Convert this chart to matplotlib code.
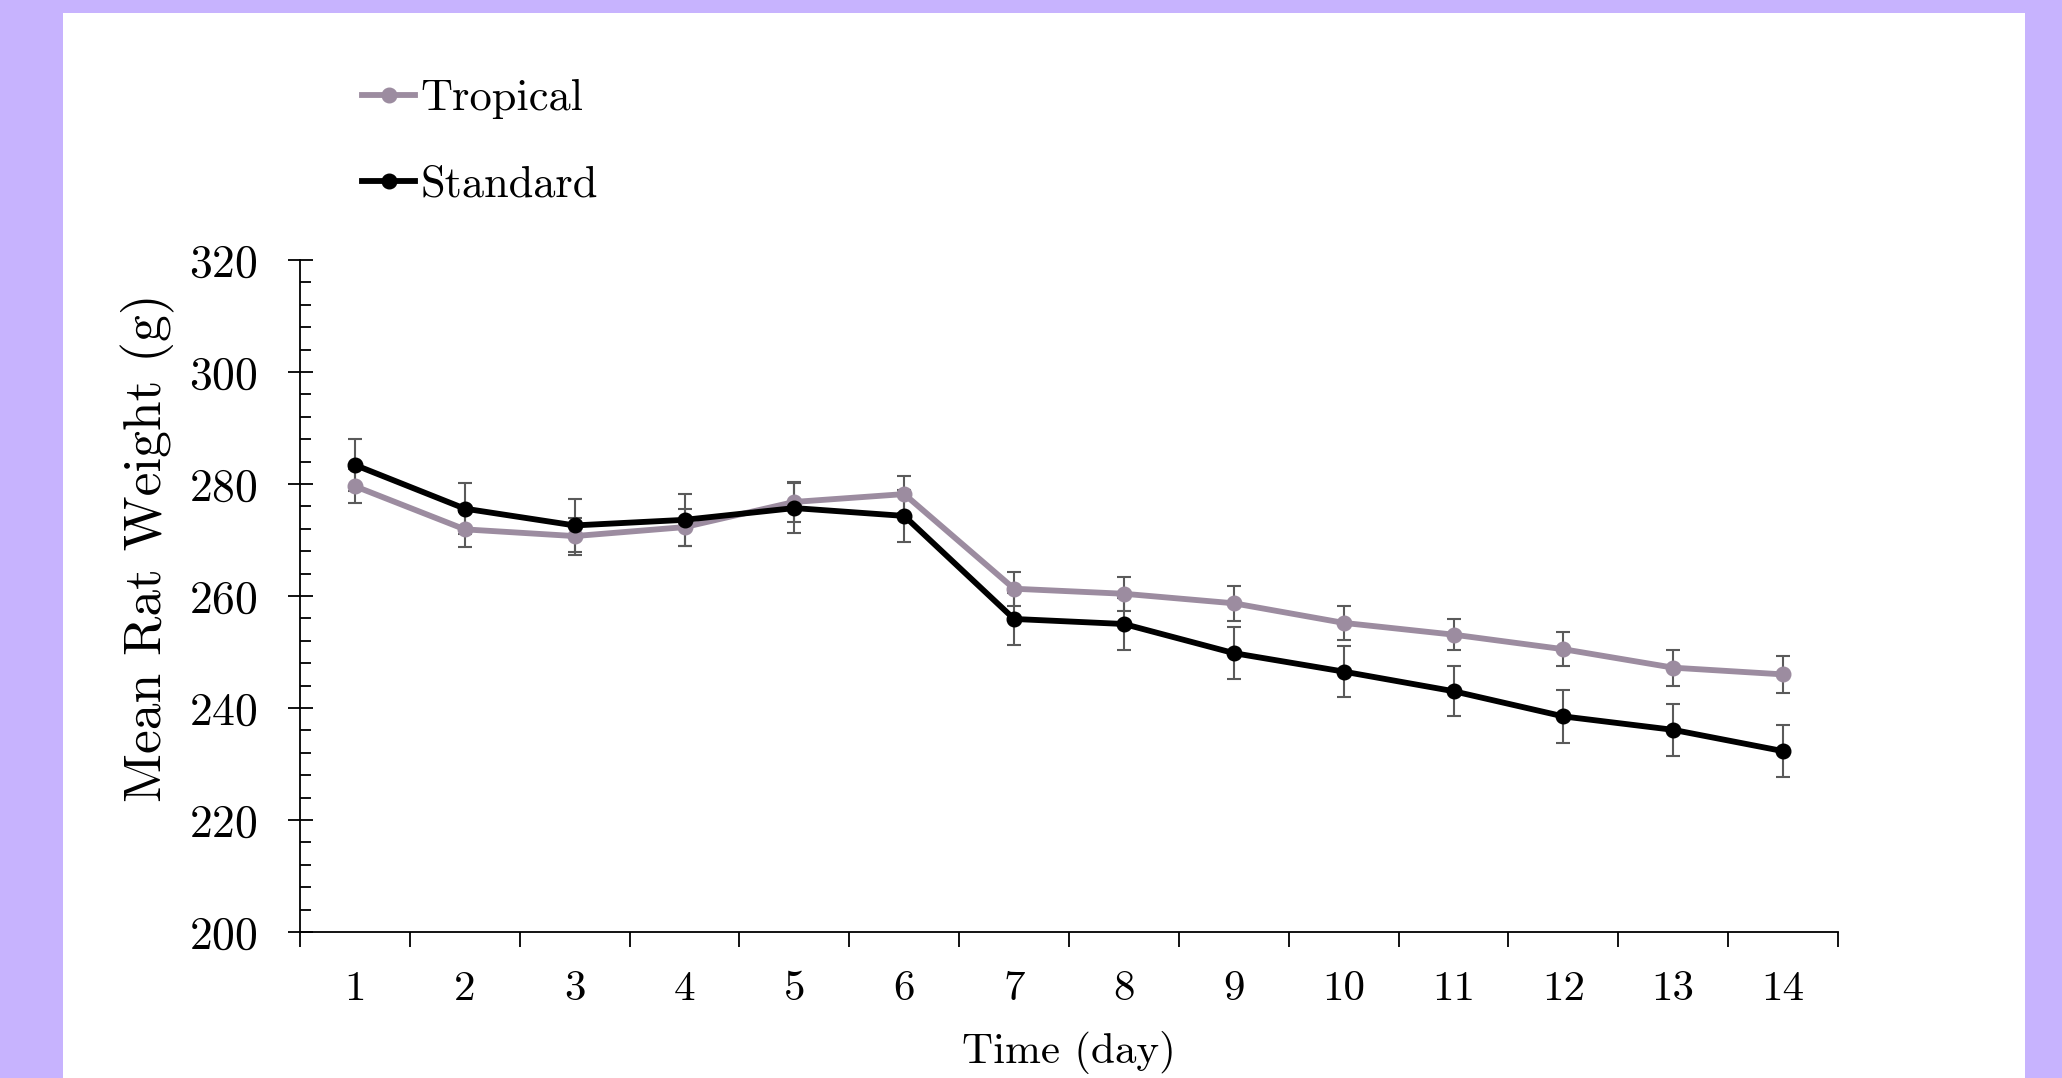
import matplotlib
matplotlib.use("Agg")
import matplotlib.pyplot as plt
import matplotlib.patches as mpatches
from matplotlib.ticker import MultipleLocator, FixedLocator

# Data
days = list(range(1, 15))
tropical = [279.6, 271.9, 270.7, 272.3, 276.8, 278.2, 261.3, 260.4, 258.7, 255.2, 253.1, 250.5, 247.2, 246.0]
tropical_err = [3.0, 3.1, 3.3, 3.3, 3.5, 3.3, 3.0, 3.0, 3.1, 3.0, 2.8, 3.0, 3.2, 3.3]
standard = [283.4, 275.6, 272.6, 273.6, 275.7, 274.3, 255.9, 255.0, 249.8, 246.5, 243.0, 238.5, 236.1, 232.3]
standard_err = [4.7, 4.5, 4.7, 4.7, 4.5, 4.6, 4.7, 4.7, 4.7, 4.5, 4.5, 4.7, 4.6, 4.7]

trop_col = "#9c8ca0"
err_col = "#5a5a5a"
bg_col = "#c7b3fe"

plt.rcParams["font.family"] = ["cmr10", "DejaVu Serif"]
plt.rcParams["axes.formatter.use_mathtext"] = True
plt.rcParams["mathtext.fontset"] = "cm"

fig = plt.figure(figsize=(20.62, 10.78), dpi=100)
fig.patch.set_facecolor(bg_col)
fig.patches.append(mpatches.Rectangle((63 / 2062, 0), (2025 - 63) / 2062, 1 - 13 / 1078,
                                      transform=fig.transFigure, facecolor="white",
                                      edgecolor="none", zorder=-5))

ax = fig.add_axes([300 / 2062, 1 - 932 / 1078, (1838 - 300) / 2062, (932 - 260) / 1078])
ax.set_facecolor("none")

ax.errorbar(days, tropical, yerr=tropical_err, fmt="none", ecolor=err_col,
            elinewidth=1.5, capsize=4.8, capthick=1.5, zorder=2)
ax.errorbar(days, standard, yerr=standard_err, fmt="none", ecolor=err_col,
            elinewidth=1.5, capsize=4.8, capthick=1.5, zorder=2)
l1, = ax.plot(days, tropical, color=trop_col, lw=4.2, marker="o", ms=10.5, zorder=3, label="Tropical")
l2, = ax.plot(days, standard, color="black", lw=4.2, marker="o", ms=10.5, zorder=4, label="Standard")

ax.set_xlim(0.5, 14.5)
ax.set_ylim(200, 320)

for s in ["top", "right"]:
    ax.spines[s].set_visible(False)
for s in ["left", "bottom"]:
    ax.spines[s].set_linewidth(1.3)

# x: tick marks on day boundaries, labels at day centres
ax.xaxis.set_major_locator(FixedLocator([d + 0.5 for d in range(0, 15)]))
ax.xaxis.set_minor_locator(FixedLocator(days))
ax.tick_params(axis="x", which="major", direction="out", length=11, width=1.3, labelbottom=False)
ax.tick_params(axis="x", which="minor", length=0, pad=28, labelsize=31)
ax.set_xticklabels([str(d) for d in days], minor=True)

ax.yaxis.set_major_locator(MultipleLocator(20))
ax.yaxis.set_minor_locator(MultipleLocator(4))
ax.tick_params(axis="y", which="major", direction="inout", length=18, width=1.3, pad=21, labelsize=33)
ax.tick_params(axis="y", which="minor", direction="in", length=7.7, width=1.3)

ax.set_xlabel("Time (day)", fontsize=31, labelpad=16)
ax.set_ylabel("Mean Rat Weight (g)", fontsize=38.5)
ax.yaxis.set_label_coords(-0.081, 0.572)

fig.legend(handles=[l1, l2], loc="upper left", bbox_to_anchor=(362 / 2062, 1 - 79 / 1078),
           frameon=False, fontsize=32, handlelength=1.2, handletextpad=0.12,
           labelspacing=1.05, borderpad=0, borderaxespad=0)

fig.savefig("out.png", dpi=100, facecolor=fig.get_facecolor())
